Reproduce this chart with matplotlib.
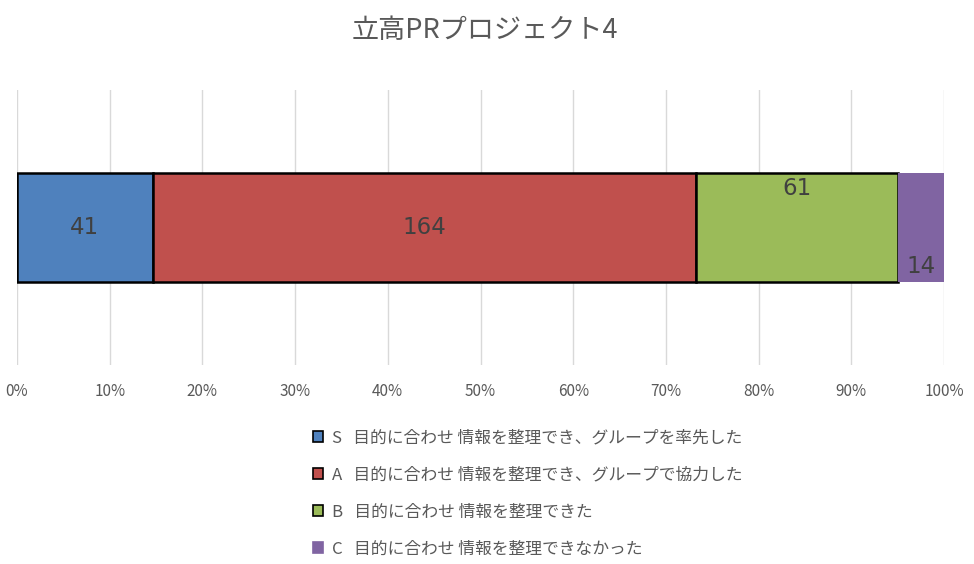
import matplotlib.pyplot as plt
from matplotlib.patches import Patch

plt.rcParams['font.family'] = ['Noto Sans CJK JP', 'DejaVu Sans']

# data
title = "立高PRプロジェクト4"
grades = ["S", "A", "B", "C"]
descriptions = [
    "目的に合わせ 情報を整理でき、グループを率先した",
    "目的に合わせ 情報を整理でき、グループで協力した",
    "目的に合わせ 情報を整理できた",
    "目的に合わせ 情報を整理できなかった",
]
counts = [41, 164, 61, 14]
colors = ["#4F81BD", "#C0504D", "#9BBB59", "#8064A2"]
edge_colors = ["black", "black", "black", "none"]
label_pos = ["center", "center", "top", "bottom"]
xticks = [0, 10, 20, 30, 40, 50, 60, 70, 80, 90, 100]

text_color = "#595959"
grid_color = "#D9D9D9"

fig = plt.figure(figsize=(9.74, 5.64), dpi=100)
ax = fig.add_axes([17 / 974, 1 - 365 / 564, (944 - 17) / 974, (365 - 90) / 564])

total = sum(counts)
bar_h = 109 / 275
left = 0.0
for n, c, ec, pos in zip(counts, colors, edge_colors, label_pos):
    w = n / total * 100
    ax.barh(0, w, left=left, height=bar_h, color=c, edgecolor=ec,
            linewidth=1.8, zorder=3)
    if pos == "center":
        y, va = 0, "center"
    elif pos == "top":
        y, va = bar_h / 2 - 0.015, "top"
    else:
        y, va = -bar_h / 2 + 0.015, "bottom"
    ax.text(left + w / 2, y, str(n), ha="center", va=va, fontsize=16.5,
            color="#404040", zorder=4, family=['DejaVu Sans'])
    left += w

ax.set_xlim(0, 100)
ax.set_ylim(-0.5, 0.5)
ax.set_xticks(xticks)
ax.set_xticklabels([f"{t}%" for t in xticks], fontsize=11, color=text_color)
ax.set_yticks([])
ax.tick_params(axis="x", length=0, pad=13)
ax.grid(axis="x", color=grid_color, linewidth=1, zorder=0)
for s in ax.spines.values():
    s.set_visible(False)

fig.text(485 / 974, 1 - 31 / 564, title, ha="center", va="center",
         fontsize=19.5, color=text_color)

handles = [Patch(facecolor=c, edgecolor=("black" if ec != "none" else c), linewidth=1.2)
           for c, ec in zip(colors, edge_colors)]
labels = [f"{g}   {d}" for g, d in zip(grades, descriptions)]
fig.legend(handles, labels, loc="upper left", bbox_to_anchor=(298 / 974, 1 - 414 / 564),
           frameon=False, fontsize=12.1, labelcolor=text_color, handlelength=0.6,
           handleheight=0.6, handletextpad=0.5, labelspacing=1.2)

fig.savefig("out.png", dpi=100, facecolor="white")
